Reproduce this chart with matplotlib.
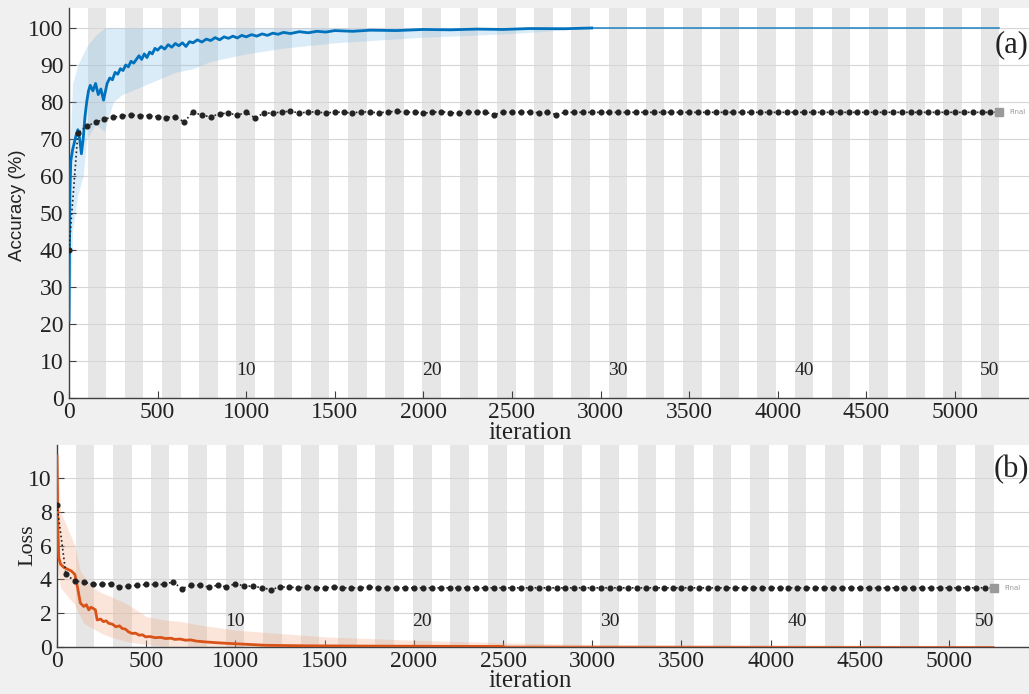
import numpy as np
import matplotlib
matplotlib.use("Agg")
import matplotlib.pyplot as plt

# training progress
epoch_len = 105
n_epochs = 50
epoch_labels = [10, 20, 30, 40, 50]

# smoothed training accuracy (iteration, %)
acc_it = [0, 5, 10, 20, 30, 40, 50, 60, 70, 80, 90, 100, 110, 120, 135, 150, 165, 180,
          195, 215, 230, 245, 260, 275, 290, 305, 320, 335, 350, 365, 380, 395, 410,
          425, 440, 455, 470, 485, 500, 520, 540, 560, 580, 600, 620, 640, 660, 680,
          700, 725, 750, 775, 800, 825, 850, 875, 900, 925, 950, 975, 1000, 1030,
          1060, 1090, 1120, 1150, 1180, 1210, 1250, 1300, 1350, 1400, 1450, 1500,
          1600, 1700, 1850, 2000, 2150, 2300, 2450, 2600, 2800, 2950, 5250]
acc_sm = [21, 55, 64, 67, 69, 71, 72.5, 70, 66, 70, 76, 80, 83, 84.5, 83, 85, 82, 83.5,
          80.5, 85, 86.5, 86, 88, 87.5, 89, 88.5, 90, 89.5, 91, 90.5, 91.5, 92.5, 91.5,
          93, 92, 93.5, 93, 94.5, 94, 95, 94.3, 95.5, 94.8, 95.8, 95.2, 96, 95, 96.3,
          96, 96.8, 96.2, 97, 96.6, 97.4, 96.8, 97.6, 97.2, 97.8, 97.3, 98, 97.6, 98.2,
          97.8, 98.4, 98, 98.6, 98.3, 98.8, 98.5, 99, 98.7, 99.1, 98.9, 99.3,
          99.1, 99.4, 99.3, 99.6, 99.5, 99.7, 99.6, 99.85, 99.8, 100, 100]
acc_flat_from = 2950  # after this the curve sits at 100 and is drawn thin

# spread of the raw (unsmoothed) training accuracy
acc_raw_it = [0, 20, 50, 80, 100, 150, 200, 250, 300, 400, 500, 600, 700, 800, 1000,
              1200, 1500, 2000, 2500, 2950, 5250]
acc_raw_lo = [10, 45, 55, 60, 70, 74, 72, 80, 82, 84, 86, 88, 89, 91, 93,
              94.5, 96, 97.5, 98.5, 100, 100]
acc_raw_hi = [60, 85, 90, 93, 95, 98, 100, 100, 100, 100, 100, 100, 100, 100, 100,
              100, 100, 100, 100, 100, 100]

# validation accuracy, one point every 50 iterations
val_every = 50
val_acc = [40.0, 71.6, 73.5, 74.5, 75.4, 75.9, 76.2, 76.5, 76.3, 76.3, 76.0, 75.8, 76.0,
           74.6, 77.3, 76.4, 76.0, 76.8, 77.0, 76.4, 77.2, 75.7, 77.0, 77.0, 77.3, 77.5,
           77.0, 77.3, 77.3, 77.0, 77.3, 77.2, 77.0, 77.4, 77.2, 77.1, 77.3, 77.5, 77.2,
           77.3, 77.0, 77.2, 77.4, 77.1, 77.0, 77.2, 77.3, 77.2, 76.6, 77.3, 77.2, 77.2,
           77.3, 77.1, 77.2, 76.6, 77.2, 77.2, 77.2, 77.2, 77.2, 77.2, 77.2, 77.2, 77.2,
           77.2, 77.2, 77.2, 77.2, 77.2, 77.2, 77.2, 77.2, 77.2, 77.2, 77.2, 77.2, 77.2,
           77.2, 77.2, 77.2, 77.2, 77.2, 77.2, 77.2, 77.2, 77.2, 77.2, 77.2, 77.2, 77.2,
           77.2, 77.2, 77.2, 77.2, 77.2, 77.2, 77.2, 77.2, 77.2, 77.2, 77.2, 77.2, 77.2,
           77.2, 77.3]
val_acc_final = 77.3

# smoothed training loss
loss_it = [0, 5, 10, 20, 40, 60, 80, 100, 112, 131, 150, 165, 178, 190, 200, 215, 225,
           245, 260, 275, 290, 310, 330, 350, 365, 385, 400, 421, 440, 460, 480, 496,
           520, 550, 580, 609, 640, 660, 690, 721, 750, 780, 833, 900, 983, 1080,
           1170, 1400, 1800, 2500, 3500, 5250]
loss_sm = [11.3, 7.0, 5.3, 4.9, 4.7, 4.6, 4.5, 4.3, 3.7, 2.6, 2.4, 2.5, 2.2, 2.35, 2.3,
           2.2, 1.6, 1.65, 1.5, 1.55, 1.4, 1.35, 1.2, 1.25, 1.1, 1.05, 0.9, 0.8, 0.82,
           0.7, 0.72, 0.6, 0.62, 0.55, 0.57, 0.5, 0.52, 0.45, 0.47, 0.4, 0.42, 0.35,
           0.3, 0.25, 0.2, 0.15, 0.1, 0.07, 0.05, 0.03, 0.02, 0.01]
loss_flat_from = 2500

loss_raw_it = [0, 20, 60, 100, 130, 150, 200, 250, 300, 400, 500, 600, 700, 800, 1000,
               1500, 2000, 2500, 3000, 5250]
loss_raw_hi = [11.8, 8.0, 7.0, 6.0, 4.5, 4.2, 3.5, 3.2, 3.0, 2.5, 1.8, 1.6, 1.5, 1.3,
               1.0, 0.6, 0.4, 0.25, 0.15, 0.05]
loss_raw_lo = [5.0, 3.5, 3.0, 2.5, 1.8, 1.4, 1.1, 0.8, 0.6, 0.3, 0.15, 0.05, 0.0, 0.0,
               0.0, 0.0, 0.0, 0.0, 0.0, 0.0]

val_loss = [8.4, 4.3, 3.9, 3.85, 3.7, 3.7, 3.75, 3.55, 3.6, 3.65, 3.7, 3.7, 3.7, 3.85,
            3.45, 3.65, 3.65, 3.55, 3.65, 3.55, 3.75, 3.6, 3.6, 3.5, 3.4, 3.55, 3.55,
            3.5, 3.55, 3.5, 3.5, 3.55, 3.5, 3.5, 3.5, 3.55, 3.5, 3.5, 3.5, 3.5, 3.5,
            3.5, 3.5, 3.5, 3.5, 3.5, 3.5, 3.5, 3.5, 3.5, 3.5, 3.5, 3.5, 3.5, 3.5, 3.5,
            3.5, 3.5, 3.5, 3.5, 3.5, 3.5, 3.5, 3.5, 3.5, 3.5, 3.5, 3.5, 3.5, 3.5, 3.5,
            3.5, 3.5, 3.5, 3.5, 3.5, 3.5, 3.5, 3.5, 3.5, 3.5, 3.5, 3.5, 3.5, 3.5, 3.5,
            3.5, 3.5, 3.5, 3.5, 3.5, 3.5, 3.5, 3.5, 3.5, 3.5, 3.5, 3.5, 3.5, 3.5, 3.5,
            3.5, 3.5, 3.5, 3.5, 3.5]
val_loss_final = 3.5

SERIF = "Liberation Serif"
TXT = "#222222"
BG = "#f0f0f0"


def style_axes(ax, xmax, ymax, yticks):
    ax.set_facecolor("white")
    for e in range(1, n_epochs, 2):
        ax.axvspan(e * epoch_len, (e + 1) * epoch_len, color="#e6e6e6", lw=0, zorder=0.2)
    ax.set_xlim(0, xmax)
    ax.set_ylim(0, ymax)
    ax.set_xticks(np.arange(0, 5001, 500))
    ax.set_yticks(yticks)
    ax.set_axisbelow(True)
    ax.grid(axis="y", color="#d6d6d6", lw=0.8)
    for s in ["top", "right"]:
        ax.spines[s].set_visible(False)
    for s in ["left", "bottom"]:
        ax.spines[s].set_color("#404040")
        ax.spines[s].set_linewidth(1.0)
    ax.tick_params(direction="in", length=5, color="#404040", labelsize=17,
                   labelcolor=TXT)
    ax.tick_params(axis="x", pad=3)
    ax.tick_params(axis="y", pad=4)
    for lab in ax.get_xticklabels() + ax.get_yticklabels():
        lab.set_fontfamily(SERIF)


def epoch_text(ax, y):
    for k in epoch_labels:
        ax.text((k - 0.5) * epoch_len, y, str(k), ha="center", va="center",
                fontsize=14, family=SERIF, color=TXT, zorder=5)


def smooth_line(ax, xs, ys, flat_from, color):
    # thick while it still moves, thin once it has settled
    xs = np.asarray(xs)
    ys = np.asarray(ys)
    head = xs <= flat_from
    tail = xs >= flat_from
    ax.plot(xs[head], ys[head], color=color, lw=2.0, zorder=3)
    ax.plot(xs[tail], ys[tail], color=color, lw=1.2, alpha=0.8, zorder=3)


fig = plt.figure(figsize=(10.29, 6.94), dpi=100)
fig.patch.set_facecolor(BG)

val_it = np.arange(len(val_acc)) * val_every
last_it = epoch_len * n_epochs

# (a) accuracy
ax1 = fig.add_axes([69 / 1029, 1 - 398 / 694, 960 / 1029, 390 / 694])
style_axes(ax1, 5418, 105.4, np.arange(0, 101, 10))
ax1.fill_between(acc_raw_it, acc_raw_lo, acc_raw_hi, color="#7dbbe6", alpha=0.28, lw=0, zorder=2)
smooth_line(ax1, acc_it, acc_sm, acc_flat_from, "#0072BD")
ax1.plot(val_it, val_acc, color="#222222", ls=":", lw=1.2, marker="o", ms=3.4,
         mfc="#222222", mec="#222222", zorder=4)
ax1.plot([last_it], [val_acc_final], marker="s", ms=6, color="#9a9a9a", zorder=4)
ax1.text(last_it + 60, val_acc_final, "Final", fontsize=5, color="#9a9a9a", va="center")
epoch_text(ax1, 7.5)

# (b) loss
ax2 = fig.add_axes([57 / 1029, 1 - 647 / 694, 972 / 1029, 202 / 694])
style_axes(ax2, 5448, 11.95, np.arange(0, 11, 2))
ax2.fill_between(loss_raw_it, loss_raw_lo, loss_raw_hi, color="#f2a882", alpha=0.3, lw=0, zorder=2)
smooth_line(ax2, loss_it, loss_sm, loss_flat_from, "#D95319")
ax2.plot(val_it, val_loss, color="#222222", ls=":", lw=1.2, marker="o", ms=3.4,
         mfc="#222222", mec="#222222", zorder=4)
ax2.plot([last_it], [val_loss_final], marker="s", ms=6, color="#9a9a9a", zorder=4)
ax2.text(last_it + 60, val_loss_final, "Final", fontsize=5, color="#9a9a9a", va="center")
epoch_text(ax2, 1.5)

# labels
fig.text(18 / 1029, 1 - 205 / 694, "Accuracy (%)", rotation=90, ha="center", va="center",
         fontsize=13.5, family="Liberation Sans", color=TXT)
fig.text(28 / 1029, 1 - 545 / 694, "Loss", rotation=90, ha="center", va="center",
         fontsize=16, family=SERIF, color=TXT)
fig.text(530 / 1029, 1 - 433 / 694, "iteration", ha="center", va="center",
         fontsize=18, family=SERIF, color=TXT)
fig.text(530 / 1029, 1 - 681 / 694, "iteration", ha="center", va="center",
         fontsize=18, family=SERIF, color=TXT)
fig.text(1.0, 1 - 45 / 694, "(a)", ha="right", va="center", fontsize=22,
         family=SERIF, color=TXT)
fig.text(1.0, 1 - 470 / 694, "(b)", ha="right", va="center", fontsize=22,
         family=SERIF, color=TXT)

fig.savefig("out.png", dpi=100, facecolor=BG)
